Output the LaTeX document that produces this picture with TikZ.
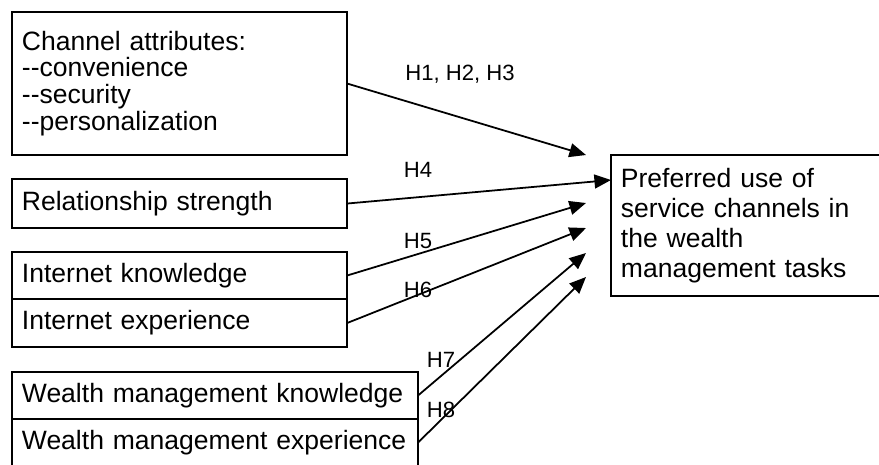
\documentclass[tikz,border=0pt]{standalone}
\usepackage{fontspec}
\setmainfont{Liberation Sans}
\usetikzlibrary{arrows.meta,positioning}
\newcommand{\twodash}{\mbox{-}\mbox{-}}

\begin{document}
\begin{tikzpicture}[x=0.4525pt, y=-0.4525pt,
    box/.style={draw, line width=0.8pt, outer sep=0pt, anchor=north west, align=left,
      inner xsep=4.5pt, inner ysep=0pt, font=\fontsize{12}{13.5}\selectfont},
    hyp/.style={anchor=base, inner sep=0pt, font=\fontsize{10}{12}\selectfont},
    link/.style={-{Triangle[length=7.5pt, width=6.3pt]}, line width=0.8pt}]
    \useasboundingbox (0,0) rectangle (879,464);

    \node[box, text width=142.6pt, minimum height=64.7pt, font=\fontsize{12}{12.1}\selectfont] (attr) at (12,12)
        {Channel attributes:\\\twodash convenience\\\twodash security\\\twodash personalization};
    \node[box, text width=142.6pt, minimum height=22.2pt] (rel) at (12,179) {Relationship strength};
    \node[box, text width=142.6pt, minimum height=21.3pt] (iknow) at (12,252) {Internet knowledge};
    \node[box, text width=142.6pt, minimum height=21.7pt, below=0pt of iknow] (iexp) {Internet experience};
    \node[box, text width=174.7pt, minimum height=21.3pt] (wknow) at (12,372) {Wealth management knowledge};
    \node[box, text width=174.7pt, minimum height=21.3pt, below=0pt of wknow] (wexp) {Wealth management experience};
    \node[box, text width=113.2pt, minimum height=63.8pt] (pref) at (611,155)
        {Preferred use of\\service channels in\\the wealth\\management tasks};

    % arrow ends
    \coordinate (t1) at (586,155);
    \coordinate (t4) at (611,180);
    \coordinate (t5) at (586,203);
    \coordinate (t6) at (586,228);
    \coordinate (t7) at (586,253);
    \coordinate (t8) at (586,277);

    \draw[link] (attr.east) -- (t1);
    \draw[link] (rel.east) -- (t4);
    \draw[link] (iknow.east) -- (t5);
    \draw[link] (iexp.east) -- (t6);
    \draw[link] (wknow.east) -- (t7);
    \draw[link] (wexp.east) -- (t8);

    \node[hyp] (h1) at (460,80) {H1, H2, H3};
    \node[hyp] (h4) at (418,177) {H4};
    \node[hyp] (h5) at (418,248) {H5};
    \node[hyp] (h6) at (418,297) {H6};
    \node[hyp] (h7) at (441,367) {H7};
    \node[hyp] (h8) at (441,417) {H8};
\end{tikzpicture}
\end{document}
